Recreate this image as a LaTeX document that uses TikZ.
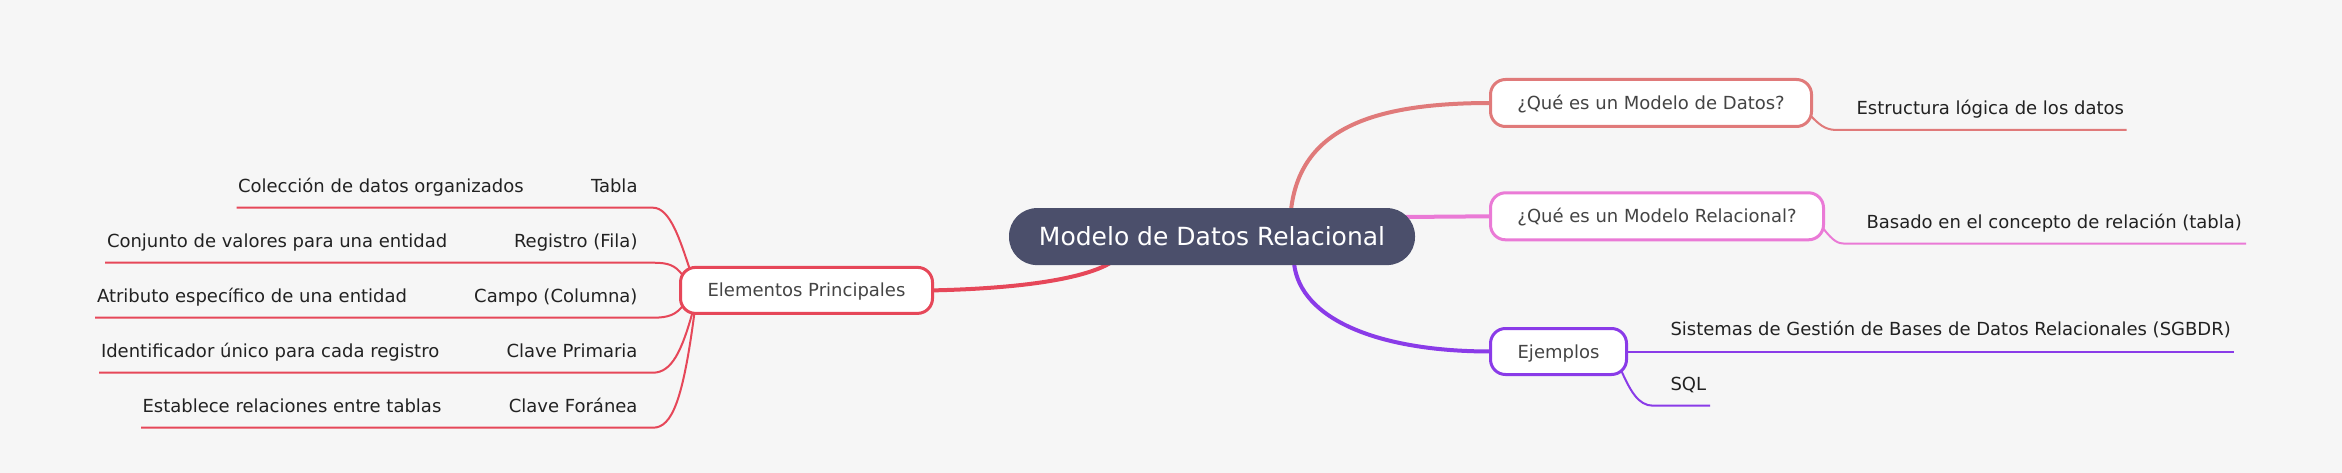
\documentclass[tikz,border=0pt]{standalone}
\usepackage{fontspec}
\setmainfont{DejaVu Sans}
\usetikzlibrary{calc}
\pgfdeclarelayer{back}
\pgfdeclarelayer{edges}
\pgfsetlayers{back,edges,main}
\definecolor{bgc}{RGB}{246,246,246}
\definecolor{cRed}{RGB}{230,71,89}
\definecolor{cDatos}{RGB}{224,122,122}
\definecolor{cRel}{RGB}{234,122,214}
\definecolor{cEj}{RGB}{138,59,232}
\definecolor{rootc}{RGB}{75,79,107}
\definecolor{boxtext}{RGB}{68,68,68}
\definecolor{leaftext}{RGB}{34,34,34}
\begin{document}
\begin{tikzpicture}[x=1pt,y=-1pt,
  rootbox/.style={fill=rootc, draw=none, rounded corners=28pt, minimum width=406pt,
    minimum height=57pt, inner sep=0pt, outer sep=0pt, text=white,
    font=\fontsize{25}{30}\selectfont, text height=18.2pt, text depth=0pt},
  subbox/.style={fill=white, line width=3pt, rounded corners=15pt, inner sep=0pt,
    outer sep=0pt, text=boxtext, font=\fontsize{18}{21}\selectfont,
    text height=13.1pt, text depth=0pt},
  leaf/.style={inner sep=0pt, outer sep=0pt, text=leaftext, font=\fontsize{18}{21}\selectfont},
  ethick/.style={line width=4pt, line cap=round},
  lthin/.style={line width=2pt}
]
\begin{pgfonlayer}{back}
\fill[bgc] (0,0) rectangle (2342,473);
\end{pgfonlayer}
\useasboundingbox (0,0) rectangle (2342,473);

% main nodes
\node[rootbox] (root) at (1212,236.6) {Modelo de Datos Relacional};
\node[subbox, draw=cRed, minimum width=252pt, minimum height=46pt] (elem) at (806.5,290.4) {Elementos Principales};
\node[subbox, draw=cDatos, minimum width=321pt, minimum height=47pt] (datos) at (1651,103) {¿Qué es un Modelo de Datos?};
\node[subbox, draw=cRel, minimum width=333pt, minimum height=47pt] (rel) at (1657,216.3) {¿Qué es un Modelo Relacional?};
\node[subbox, draw=cEj, minimum width=136pt, minimum height=46pt] (ej) at (1558.5,351.5) {Ejemplos};

% left leaves
\node[leaf, anchor=base east] (tabla) at (637.5,192.5) {Tabla};
\node[leaf, anchor=base west] (tablad) at (238,192.5) {Colección de datos organizados};
\node[leaf, anchor=base east] (reg) at (637.5,247.5) {Registro (Fila)};
\node[leaf, anchor=base west] (regd) at (107,247.5) {Conjunto de valores para una entidad};
\node[leaf, anchor=base east] (campo) at (637.5,302.5) {Campo (Columna)};
\node[leaf, anchor=base west] (campod) at (97,302.5) {Atributo específico de una entidad};
\node[leaf, anchor=base east] (prim) at (637.5,357.5) {Clave Primaria};
\node[leaf, anchor=base west] (primd) at (101,357.5) {Identificador único para cada registro};
\node[leaf, anchor=base east] (for) at (637.5,412.5) {Clave Foránea};
\node[leaf, anchor=base west] (ford) at (142.5,412.5) {Establece relaciones entre tablas};

% right leaves
\node[leaf, anchor=base west] (est) at (1856.5,114.6) {Estructura lógica de los datos};
\node[leaf, anchor=base west] (bas) at (1866.5,228.4) {Basado en el concepto de relación (tabla)};
\node[leaf, anchor=base west] (sis) at (1670.5,335.4) {Sistemas de Gestión de Bases de Datos Relacionales (SGBDR)};
\node[leaf, anchor=base west] (sql) at (1670.5,390.4) {SQL};

% underline coordinates
\coordinate (tablaR) at (653,207.7); \coordinate (tablaL) at (236.6,207.7);
\coordinate (regR) at (653,262.7);   \coordinate (regL) at (105,262.7);
\coordinate (campoR) at (653,317.7); \coordinate (campoL) at (95,317.7);
\coordinate (primR) at (653,372.7);  \coordinate (primL) at (99,372.7);
\coordinate (forR) at (653,427.7);   \coordinate (forL) at (141,427.7);
\coordinate (estL) at (1838,130);    \coordinate (estR) at (2126.5,130);
\coordinate (basL) at (1845,243.7);  \coordinate (basR) at (2246,243.7);
\coordinate (sisR) at (2234,351.5);
\coordinate (sqlL) at (1653,405.7);  \coordinate (sqlR) at (1710,405.7);

\begin{pgfonlayer}{edges}
% root connectors
\draw[ethick, cDatos] ($(root.north)+(79,2)$) .. controls (1300,130) and (1370,103) .. (datos.west);
\draw[ethick, cRel] ($(root.east)+(-12,-19.6)$) -- (rel.west);
\draw[ethick, cEj] ($(root.south)+(82,-2)$) .. controls (1300,320) and (1380,351.5) .. (ej.west);
\draw[ethick, cRed] (elem.east) .. controls (1040,288) and (1090,275) .. ($(root.south)+(-102,-2)$);

% left leaf connectors
\draw[lthin, cRed] ($(elem.north west)+(9,1)$) .. controls (680,240) and (670,207.7) .. (tablaR) -- (tablaL);
\draw[lthin, cRed] ($(elem.west)+(2,-15.4)$) .. controls (675,265) and (668,262.7) .. (regR) -- (regL);
\draw[lthin, cRed] ($(elem.west)+(3,14.6)$) .. controls (676,315) and (668,317.7) .. (campoR) -- (campoL);
\draw[lthin, cRed] ($(elem.south west)+(12,-1)$) .. controls (682,350) and (672,372.7) .. (primR) -- (primL);
\draw[lthin, cRed] ($(elem.south west)+(14,-1)$) .. controls (683,400) and (672,427.7) .. (forR) -- (forL);

% right leaf connectors
\draw[lthin, cDatos] ($(datos.south east)+(-1,-11)$) .. controls (1822,128) and (1828,130) .. (estL) -- (estR);
\draw[lthin, cRel] ($(rel.south east)+(0,-11)$) .. controls (1833,241) and (1838,243.7) .. (basL) -- (basR);
\draw[lthin, cEj] (ej.east) -- (sisR);
\draw[lthin, cEj] ($(ej.south east)+(-5.3,-4)$) .. controls (1630,390) and (1638,405.7) .. (sqlL) -- (sqlR);
\end{pgfonlayer}
\end{tikzpicture}
\end{document}
